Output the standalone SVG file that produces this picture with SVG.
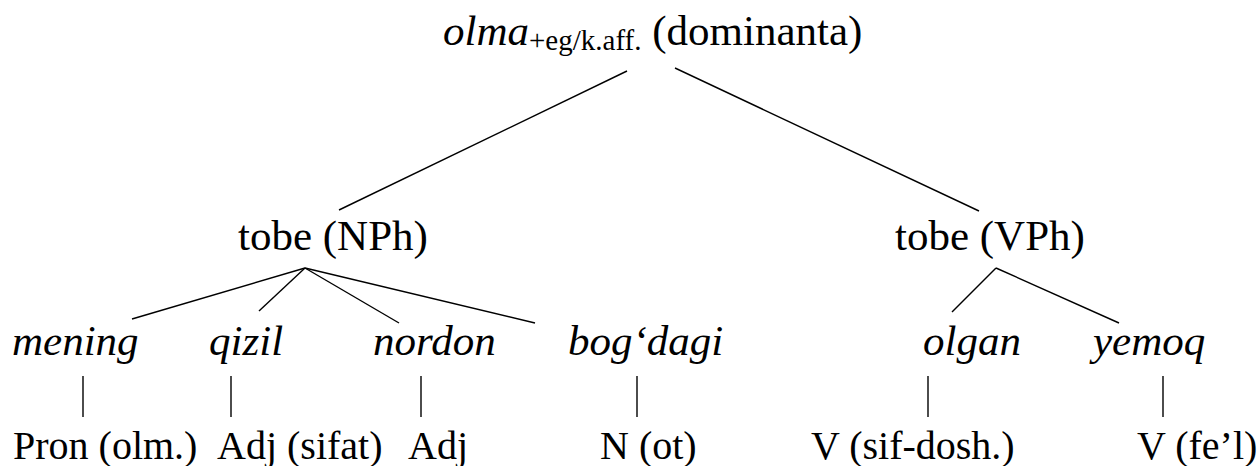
<svg xmlns="http://www.w3.org/2000/svg" width="1258" height="466" viewBox="0 0 1258 466">
  <style>
    .lbl, .it, .pos, .sub { font-family: "Liberation Serif", "Times New Roman", serif; fill: #000; }
    .lbl { font-size: 43px; }
    .it { font-size: 43px; font-style: italic; }
    .pos { font-size: 40px; }
    .sub { font-size: 29px; font-style: normal; }
    .edges line { stroke: #000; stroke-width: 1.4; }
  </style>
  <rect width="1258" height="466" fill="#fff"/>

  <!-- tree branches -->
  <g class="edges" id="connectors">
    <line x1="627" y1="71" x2="339" y2="210"/>
    <line x1="675" y1="68" x2="979" y2="211"/>
    <line x1="305" y1="268" x2="132" y2="319"/>
    <line x1="305" y1="268" x2="259" y2="311"/>
    <line x1="305" y1="268" x2="399" y2="323"/>
    <line x1="305" y1="268" x2="535" y2="323"/>
    <line x1="996" y1="268" x2="952" y2="312"/>
    <line x1="996" y1="268" x2="1119" y2="323"/>
    <line x1="83" y1="376" x2="83" y2="417"/>
    <line x1="231" y1="376" x2="231" y2="417"/>
    <line x1="421" y1="376" x2="421" y2="417"/>
    <line x1="637" y1="376" x2="637" y2="417"/>
    <line x1="928" y1="376" x2="928" y2="417"/>
    <line x1="1163" y1="376" x2="1163" y2="417"/>
  </g>

  <g id="root">
    <text class="lbl" x="443" y="45"><tspan class="it">olma</tspan><tspan class="sub" dy="5">+eg/k.aff.</tspan><tspan class="lbl" dy="-5"> (dominanta)</tspan></text>
  </g>

  <g id="np"><text class="lbl" x="238" y="250">tobe (NPh)</text></g>
  <g id="vp"><text class="lbl" x="895" y="250">tobe (VPh)</text></g>

  <g id="w-mening"><text class="it" x="12" y="355">mening</text></g>
  <g id="w-qizil"><text class="it" x="209" y="355">qizil</text></g>
  <g id="w-nordon"><text class="it" x="373" y="355">nordon</text></g>
  <g id="w-bogdagi"><text class="it" x="568" y="355">bog‘dagi</text></g>
  <g id="w-olgan"><text class="it" x="923" y="355">olgan</text></g>
  <g id="w-yemoq"><text class="it" x="1093" y="355">yemoq</text></g>

  <g id="t-pron"><text class="pos" x="13" y="459">Pron (olm.)</text></g>
  <g id="t-adj1"><text class="pos" x="217" y="459">Adj (sifat)</text></g>
  <g id="t-adj2"><text class="pos" x="408" y="459">Adj</text></g>
  <g id="t-n"><text class="pos" x="600" y="459">N (ot)</text></g>
  <g id="t-v1"><text class="pos" x="811" y="459">V (sif-dosh.)</text></g>
  <g id="t-v2"><text class="pos" x="1137" y="459">V (fe’l)</text></g>
</svg>
